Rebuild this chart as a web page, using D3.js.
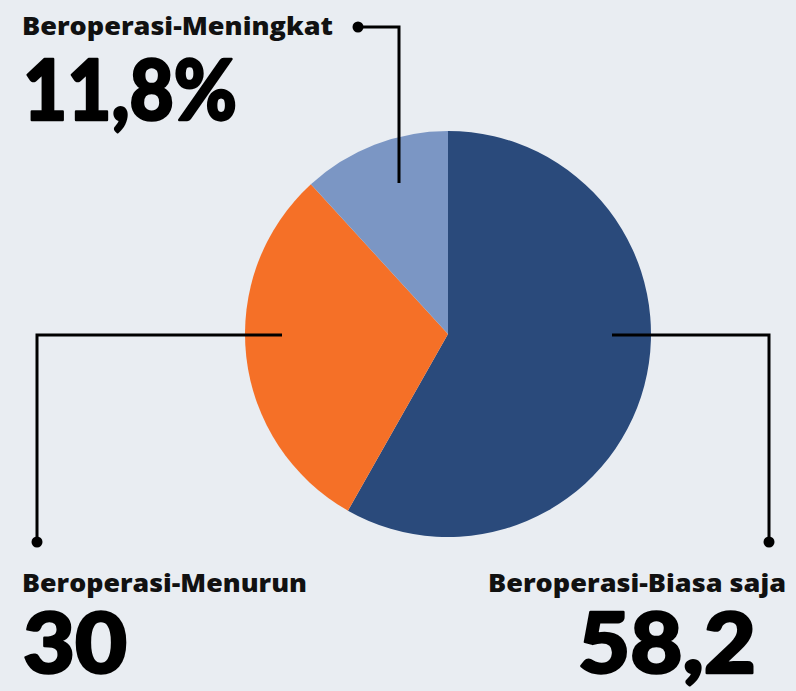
<!DOCTYPE html>
<html><head><meta charset="utf-8">
<script src="https://cdn.jsdelivr.net/npm/d3@7"></script>
<style>
html,body{margin:0;padding:0;background:#e9edf2;}
svg{display:block;}
</style></head>
<body>
<svg id="chart" width="796" height="691"></svg>
<script>
const categories = ["Beroperasi-Biasa saja", "Beroperasi-Menurun", "Beroperasi-Meningkat"];
const values = [58.2, 30, 11.8];
const valueLabels = ["58,2", "30", "11,8%"];
const colors = ["#2a4a7b", "#f57027", "#7b96c4"];

const W = 796, H = 691;
const cx = 448, cy = 334, R = 203;
const svg = d3.select("#chart");
svg.append("rect").attr("width", W).attr("height", H).attr("fill", "#e9edf2");

const pie = d3.pie().value(d => d).sort(null);
const arcs = pie(values);
const arc = d3.arc().innerRadius(0).outerRadius(R);
const g = svg.append("g").attr("transform", `translate(${cx},${cy})`);
g.selectAll("path").data(arcs).enter().append("path")
  .attr("d", arc).attr("fill", (d, i) => colors[i]);

// leader annotations (layout only)
const leaders = [
  { pts: [[612, 335], [769, 335], [769, 542]] },
  { pts: [[282, 335], [37, 335], [37, 542]] },
  { pts: [[399, 183], [399, 27], [358, 27]] }
];
const line = d3.line();
leaders.forEach(l => {
  svg.append("path").attr("d", line(l.pts)).attr("fill", "none")
    .attr("stroke", "#000").attr("stroke-width", 3).attr("stroke-linejoin", "miter");
  const end = l.pts[l.pts.length - 1];
  svg.append("circle").attr("cx", end[0]).attr("cy", end[1]).attr("r", 5.5).attr("fill", "#000");
});

// text layout
const textPos = [
  { x: 786, anchor: "end", labelY: 592, labelW: 298, numX: 756, numY: 673, numW: 178 },
  { x: 22, anchor: "start", labelY: 592, labelW: 285, numX: 23, numY: 673, numW: 104 },
  { x: 22, anchor: "start", labelY: 35, labelW: 311, numX: 23, numY: 120, numW: 214 }
];
categories.forEach((c, i) => {
  const p = textPos[i];
  svg.append("text").attr("x", p.x).attr("y", p.labelY).attr("text-anchor", p.anchor)
    .attr("font-family", "'Open Sans', 'Noto Sans', sans-serif").attr("font-weight", 800)
    .attr("font-size", 25).attr("fill", "#111")
    .attr("textLength", p.labelW).attr("lengthAdjust", "spacingAndGlyphs").text(c);
  svg.append("text").attr("x", p.numX).attr("y", p.numY).attr("text-anchor", p.anchor)
    .attr("font-family", "Lato, 'Open Sans', sans-serif").attr("font-weight", 900)
    .attr("font-size", 84).attr("fill", "#000")
    .attr("stroke", "#000").attr("stroke-width", 2.5).attr("stroke-linejoin", "round")
    .attr("textLength", p.numW).attr("lengthAdjust", "spacingAndGlyphs").text(valueLabels[i]);
});
</script>
</body></html>
